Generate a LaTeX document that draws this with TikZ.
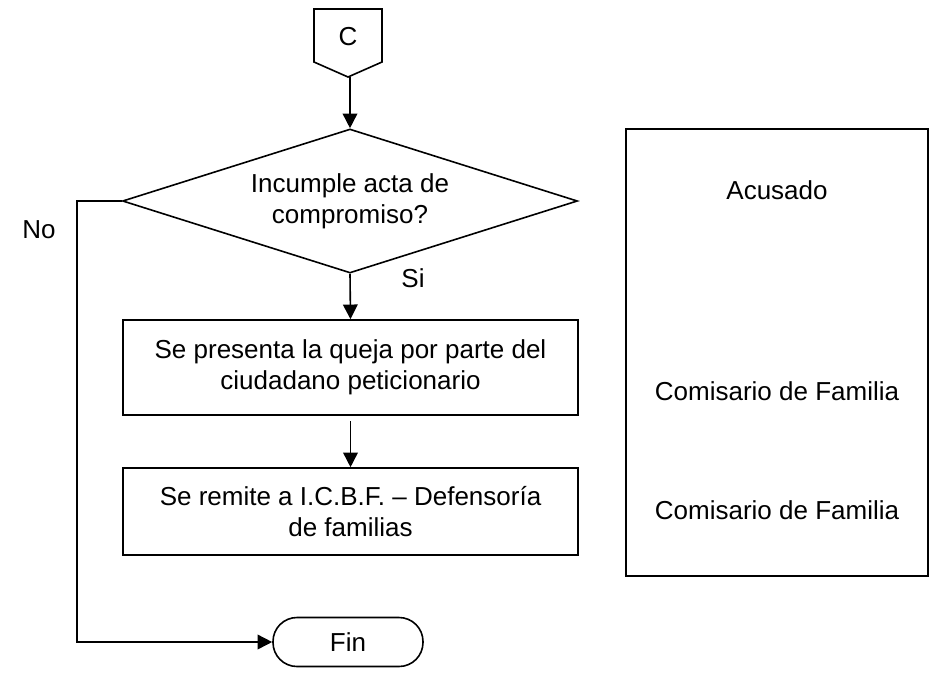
\documentclass[tikz,border=0pt]{standalone}
\usepackage{fontspec}
\setmainfont{Liberation Sans}
\usetikzlibrary{shapes.geometric,arrows.meta}
\begin{document}
\begin{tikzpicture}[x=0.75pt,y=-0.75pt,
  line width=1.2pt,
  every node/.style={font=\fontsize{19.5pt}{23.5pt}\selectfont},
  procbox/.style={draw,rectangle,minimum width=341.25pt,minimum height=#1,inner sep=0pt,align=center},
  decision/.style={draw,diamond,aspect=3.16,minimum width=341.25pt,minimum height=108pt,inner sep=0pt,align=center},
  termbox/.style={draw,rectangle,rounded corners=18pt,minimum width=112.5pt,minimum height=36.75pt,inner sep=0pt},
  arr/.style={-{Triangle[width=11pt,length=11pt]}},
  plain/.style={inner sep=0pt}]
\useasboundingbox (0,0) rectangle (931,679);
% off-page connector C
\node[plain] (c) at (348,37) {C};
\draw (314,9) -- (382,9) -- (382,62) -- (348,77) -- (314,62) -- cycle;
\coordinate (cbot) at (350,77);
% decision
\node[decision] (dec) at (350,201) {Incumple acta de\\compromiso?};
% process boxes
\node[procbox=71.25pt] (p1) at (350.5,367.5) {Se presenta la queja por parte del\\ciudadano peticionario};
\node[procbox=65.25pt] (p2) at (350.5,511.5) {Se remite a I.C.B.F. -- Defensoría\\de familias};
% end
\node[termbox] (fin) at (348,642) {Fin};
% right box
\node[draw,rectangle,minimum width=226.5pt,minimum height=335.25pt,inner sep=0pt] (rb) at (777,352.5) {};
\node[plain] (r1) at (777,190) {Acusado};
\node[plain] (r2) at (777,391) {Comisario de Familia};
\node[plain] (r3) at (777,510) {Comisario de Familia};
% labels
\node[plain] (no) at (39,230) {No};
\node[plain] (si) at (413,278) {Si};
% connectors
\draw[arr] (cbot) -- (dec.north);
\draw[arr] (dec.south) -- (p1.north);
\draw[arr,shorten <=4pt] (p1.south) -- (p2.north);
\coordinate (lc) at (77,642);
\draw[arr] (dec.west) -| (lc) -- (fin.west);
\end{tikzpicture}
\end{document}
